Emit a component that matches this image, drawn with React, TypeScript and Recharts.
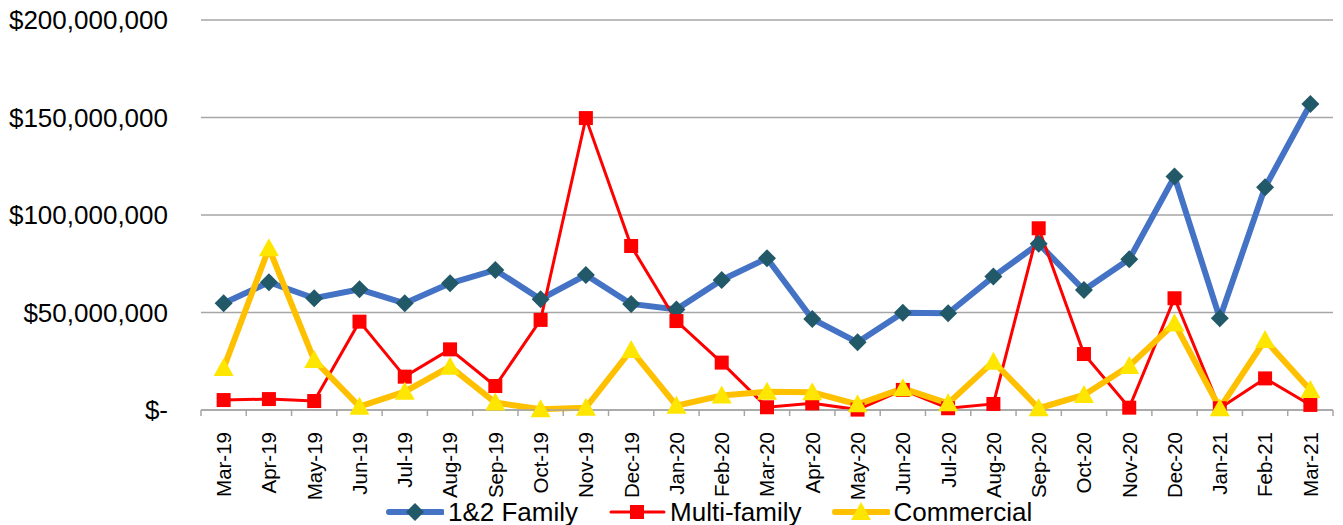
import React from "react";
import { LineChart, Line, XAxis, YAxis, CartesianGrid, Legend } from "recharts";

const months = [
  "Mar-19", "Apr-19", "May-19", "Jun-19", "Jul-19", "Aug-19", "Sep-19", "Oct-19", "Nov-19", "Dec-19",
  "Jan-20", "Feb-20", "Mar-20", "Apr-20", "May-20", "Jun-20", "Jul-20", "Aug-20", "Sep-20", "Oct-20",
  "Nov-20", "Dec-20", "Jan-21", "Feb-21", "Mar-21",
];

const family12 = [
  54.7, 65.5, 57.3, 61.9, 54.7, 65.0, 71.8, 56.8, 69.2, 54.4,
  51.6, 66.7, 77.8, 46.7, 34.7, 49.9, 49.6, 68.4, 85.3, 61.5,
  77.3, 119.7, 47.0, 114.2, 156.9,
];

const multiFamily = [
  5.1, 5.6, 4.6, 45.3, 17.1, 31.1, 12.3, 46.2, 149.7, 84.1,
  45.6, 24.3, 1.4, 3.4, 0.2, 10.3, 0.9, 3.1, 93.2, 28.7,
  1.2, 57.3, 0.9, 16.2, 2.6,
];

const commercial = [
  21.5, 83.0, 25.6, 1.7, 9.4, 22.2, 3.8, 0.4, 1.2, 30.8,
  2.2, 7.4, 9.4, 9.1, 2.9, 11.1, 3.4, 24.8, 0.9, 7.7,
  22.6, 44.4, 0.9, 35.9, 10.3,
];

const yTicks = [0, 50000000, 100000000, 150000000, 200000000];

const data = months.map((m, i) => ({
  month: m,
  family: family12[i] * 1e6,
  multi: multiFamily[i] * 1e6,
  commercial: commercial[i] * 1e6,
}));

const FONT = "'Liberation Sans', Arial, sans-serif";
const CHART_W = 1343;
const CHART_H = 525;
const Y_W = 201;
const RIGHT = 10;
const BAND = (CHART_W - Y_W - RIGHT) / months.length;

const fmtY = (v: number) => (v === 0 ? "$-" : "$" + v.toLocaleString("en-US"));

const XTick = (props: any) => {
  const { x, y, payload, index } = props;
  const left = x - BAND / 2;
  const right = x + BAND / 2;
  return (
    <g>
      <line x1={left} y1={y} x2={left} y2={y + 6} stroke="#A6A6A6" strokeWidth={1.5} />
      {index === months.length - 1 && (
        <line x1={right} y1={y} x2={right} y2={y + 6} stroke="#A6A6A6" strokeWidth={1.5} />
      )}
      <text
        transform={`translate(${x},${y + 22}) rotate(-90)`}
        textAnchor="end"
        dy="0.36em"
        fontSize={20.5}
        fontFamily={FONT}
        fill="#000"
      >
        {payload.value}
      </text>
    </g>
  );
};

const YTick = (props: any) => {
  const { x, y, payload } = props;
  return (
    <text x={x} y={y} dy="0.36em" textAnchor="end" fontSize={26} fontFamily={FONT} fill="#000">
      {fmtY(payload.value)}
    </text>
  );
};

const Diamond = (props: any) => {
  const { cx, cy, index } = props;
  if (cx == null || cy == null) return <g key={`d-${index}`} />;
  return (
    <path
      key={`d-${index}`}
      d={`M${cx},${cy - 9} L${cx + 9},${cy} L${cx},${cy + 9} L${cx - 9},${cy} Z`}
      fill="#215968"
    />
  );
};

const Square = (props: any) => {
  const { cx, cy, index } = props;
  if (cx == null || cy == null) return <g key={`s-${index}`} />;
  return <rect key={`s-${index}`} x={cx - 7} y={cy - 7} width={14} height={14} fill="#FF0000" />;
};

const Triangle = (props: any) => {
  const { cx, cy, index } = props;
  if (cx == null || cy == null) return <g key={`t-${index}`} />;
  return (
    <path
      key={`t-${index}`}
      d={`M${cx},${cy - 10} L${cx + 10},${cy + 8} L${cx - 10},${cy + 8} Z`}
      fill="#FFE600"
    />
  );
};

const legendItems = [
  { label: "1&2 Family", line: "#4472C4", width: 6, marker: "diamond" },
  { label: "Multi-family", line: "#FF0000", width: 3, marker: "square" },
  { label: "Commercial", line: "#FFC000", width: 6, marker: "triangle" },
];

const LegendContent = () => (
  <div
    style={{
      display: "flex",
      alignItems: "center",
      paddingLeft: 386,
      paddingTop: 7,
      fontFamily: FONT,
      fontSize: 26,
      lineHeight: "30px",
    }}
  >
    {legendItems.map((it) => (
      <div key={it.label} style={{ display: "flex", alignItems: "center", marginRight: 30 }}>
        <svg width={58} height={26} style={{ marginRight: 4 }}>
          <line x1={3} y1={13} x2={56} y2={13} stroke={it.line} strokeWidth={it.width} strokeLinecap="round" />
          {it.marker === "diamond" && <path d="M29,4 L38,13 L29,22 L20,13 Z" fill="#215968" />}
          {it.marker === "square" && <rect x={22} y={6} width={14} height={14} fill="#FF0000" />}
          {it.marker === "triangle" && <path d="M29,3 L39,21 L19,21 Z" fill="#FFE600" />}
        </svg>
        <span style={{ color: "#000" }}>{it.label}</span>
      </div>
    ))}
  </div>
);

export default function App() {
  return (
    <div style={{ position: "absolute", left: 0, top: 0, width: CHART_W, height: CHART_H, background: "#fff" }}>
      <LineChart width={CHART_W} height={CHART_H} data={data} margin={{ top: 20, right: RIGHT, left: 0, bottom: 0 }}>
        <CartesianGrid vertical={false} stroke="#A6A6A6" strokeWidth={1.5} />
        <XAxis
          dataKey="month"
          height={80}
          interval={0}
          padding={{ left: BAND / 2, right: BAND / 2 }}
          tickLine={false}
          tickSize={0}
          tickMargin={0}
          stroke="#A6A6A6"
          strokeWidth={1.5}
          tick={<XTick />}
        />
        <YAxis
          width={Y_W}
          domain={[0, 200000000]}
          ticks={yTicks}
          axisLine={false}
          tickLine={false}
          tickSize={0}
          tickMargin={33}
          tick={<YTick />}
        />
        <Legend verticalAlign="bottom" height={35} content={<LegendContent />} />
        <Line
          dataKey="family"
          stroke="#4472C4"
          strokeWidth={6}
          dot={Diamond}
          activeDot={false}
          isAnimationActive={false}
        />
        <Line
          dataKey="multi"
          stroke="#FF0000"
          strokeWidth={3}
          dot={Square}
          activeDot={false}
          isAnimationActive={false}
        />
        <Line
          dataKey="commercial"
          stroke="#FFC000"
          strokeWidth={6}
          dot={Triangle}
          activeDot={false}
          isAnimationActive={false}
        />
      </LineChart>
    </div>
  );
}
